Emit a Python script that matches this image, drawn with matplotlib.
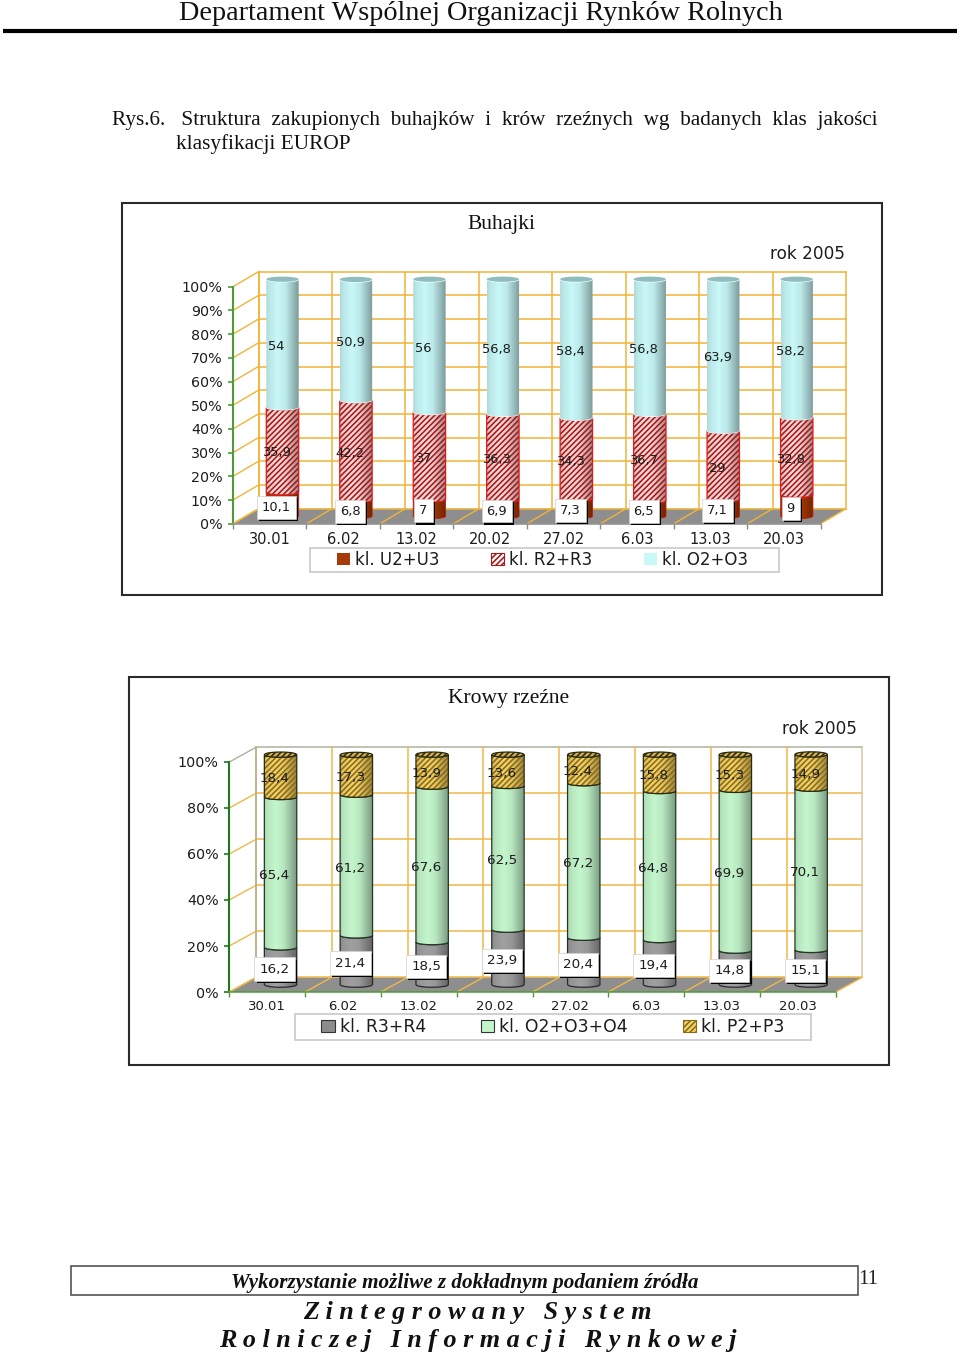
import numpy as np
import matplotlib
matplotlib.use("Agg")
import matplotlib.pyplot as plt
from matplotlib.patches import Polygon, Rectangle, Patch
import matplotlib.patheffects as pe

# ---------- data ----------
dates = ["30.01", "6.02", "13.02", "20.02", "27.02", "6.03", "13.03", "20.03"]

buhajki_names = ["kl. U2+U3", "kl. R2+R3", "kl. O2+O3"]
buhajki_u = [10.1, 6.8, 7, 6.9, 7.3, 6.5, 7.1, 9]
buhajki_r = [35.9, 42.2, 37, 36.3, 34.3, 36.7, 29, 32.8]
buhajki_o = [54, 50.9, 56, 56.8, 58.4, 56.8, 63.9, 58.2]

krowy_names = ["kl. R3+R4", "kl. O2+O3+O4", "kl. P2+P3"]
krowy_r = [16.2, 21.4, 18.5, 23.9, 20.4, 19.4, 14.8, 15.1]
krowy_o = [65.4, 61.2, 67.6, 62.5, 67.2, 64.8, 69.9, 70.1]
krowy_p = [18.4, 17.3, 13.9, 13.6, 12.4, 15.8, 15.3, 14.9]

W, H = 960, 1352
DPI = 100
PT = 72 / DPI
SERIF = "Liberation Serif"
SANS = "DejaVu Sans"
plt.rcParams["font.family"] = SANS
plt.rcParams["hatch.linewidth"] = 1.15

fig = plt.figure(figsize=(W / DPI, H / DPI), dpi=DPI, facecolor="white")
page = fig.add_axes([0, 0, 1, 1], zorder=0)
page.set_xlim(0, W)
page.set_ylim(H, 0)
page.axis("off")


def gradient(base):
    t = np.linspace(0, 1, 96)
    shade = np.interp(t, [0, 0.12, 0.35, 0.6, 0.85, 1], [0.88, 0.94, 1.0, 0.94, 0.74, 0.62])
    rgb = np.array(matplotlib.colors.to_rgb(base))
    return np.clip(shade[:, None] * rgb, 0, 1)[None, :, :]


def chart(rect_px, series, names, styles, tick_fs, xt_fs, lab_fs, leg_fs, xt_pad,
          yticks, colors, legend_px, legend_spacing, legend_shift):
    x0, x1, y100, y0, ddx, ddy = rect_px
    ax = fig.add_axes([x0 / W, 1 - y0 / H, (x1 - x0) / W, (y0 - y100) / H], zorder=2)
    ax.patch.set_alpha(0)
    n = len(dates)
    ax.set_xlim(0, n)
    ax.set_ylim(0, 100)
    ux = (x1 - x0) / n        # pixels per category
    uy = (y0 - y100) / 100    # pixels per percent
    dx, dy = ddx / ux, ddy / uy   # full depth in data units

    # floor
    ax.add_patch(Polygon([(0, 0), (n, 0), (n + dx, dy), (dx, dy)], closed=True,
                         fc="#8e8e8e", ec="none", clip_on=False, zorder=1))
    # walls, grid
    gc = colors["grid"]
    for v in yticks:
        col = colors["topline"] if v == 100 else gc
        ax.plot([dx, n + dx], [v + dy, v + dy], color=col, lw=1.1, clip_on=False, zorder=2)
        ax.plot([0, dx], [v, v + dy], color=col, lw=1.0, clip_on=False, zorder=2)
    for i in range(n + 1):
        ax.plot([i + dx, i + dx], [dy, 100 + dy],
                color=colors["side"] if i == n else gc, lw=1.1, clip_on=False, zorder=2)
        ax.plot([i, i + dx], [0, dy], color=gc, lw=1.0, clip_on=False, zorder=3)
    ax.plot([dx, dx], [dy, 100 + dy], color=colors["side0"], lw=1.1, clip_on=False, zorder=2)

    # cylinders
    half = (16.2 / ux)
    e = 2.6 / uy
    tt = np.linspace(-1, 1, 41)
    arc = np.sqrt(1 - tt ** 2)
    z = 5
    for i in range(n):
        cx = i + 0.5 + dx / 2
        bottom = dy / 2
        for vals, st in zip(series, styles):
            v = vals[i]
            top = bottom + v
            xs = cx + half * tt
            poly = np.vstack([np.c_[xs, bottom - e * arc],
                              np.c_[xs[::-1], (top - e * arc)[::-1]]])
            edge = st.get("edge", "none")
            p = Polygon(poly, closed=True, fc="none", ec="none", clip_on=False, zorder=z)
            ax.add_patch(p)
            im = ax.imshow(gradient(st["color"]), extent=[cx - half, cx + half, bottom - e, top],
                           aspect="auto", zorder=z, interpolation="bilinear")
            im.set_clip_box(fig.bbox)
            im.set_clip_path(p)
            if "hatch" in st:
                ax.add_patch(Polygon(poly, closed=True, fc="none", ec=st["hatchcolor"],
                                     hatch=st["hatch"], lw=0, clip_on=False, zorder=z + 0.1))
            if edge != "none":
                ax.add_patch(Polygon(poly, closed=True, fc="none", ec=edge,
                                     lw=st.get("lw", 1.0), clip_on=False, zorder=z + 0.2))
            if "sep" in st:
                ax.plot(xs, top - e * arc, color=st["sep"], lw=1.0, clip_on=False, zorder=z + 0.3)
            bottom = top
            z += 1
        # top cap
        st = styles[-1]
        cap = np.vstack([np.c_[cx + half * tt, bottom + e * arc],
                         np.c_[(cx + half * tt)[::-1], (bottom - e * arc)[::-1]]])
        ax.add_patch(Polygon(cap, closed=True, fc=st["cap"], ec=st.get("edge", "none"),
                             lw=st.get("lw", 1.0), hatch=st.get("hatch"), clip_on=False, zorder=z))
        z += 1
    ax.set_xlim(0, n)
    ax.set_ylim(0, 100)

    # value labels
    for i in range(n):
        cx = i + 0.5 + dx / 2
        bottom = dy / 2
        for k, vals in enumerate(series):
            v = vals[i]
            mid = bottom + v / 2
            s = f"{v:g}".replace(".", ",")
            t = ax.annotate(s, (cx, mid), xytext=(-6 * PT, -3 * PT), textcoords="offset points",
                            ha="center", va="center", fontsize=lab_fs, color="#1c1c1c",
                            annotation_clip=False, zorder=500)
            if k == 0:
                t.set_bbox(dict(boxstyle="square,pad=0.38", fc="white", ec="#d0d0d0", lw=0.5))
                t.get_bbox_patch().set_path_effects(
                    [pe.SimplePatchShadow(offset=(1.6, -1.6), shadow_rgbFace="black", alpha=1),
                     pe.Normal()])
            bottom += v

    # axes
    for s in ("top", "right"):
        ax.spines[s].set_visible(False)
    ax.spines["left"].set_color(colors["yaxis"])
    ax.spines["left"].set_linewidth(1.5)
    ax.spines["bottom"].set_color(colors["xaxis"])
    ax.spines["bottom"].set_linewidth(1.1)
    ax.spines["bottom"].set_zorder(4)
    ax.set_yticks(yticks)
    ax.set_yticklabels([f"{v}%" for v in yticks], fontsize=tick_fs, color="#1c1c1c")
    ax.tick_params(axis="y", length=5 * PT, width=1.2, color=colors["yaxis"], pad=5.5 * PT)
    ax.set_xticks(np.arange(n) + 0.5)
    ax.set_xticklabels(dates, fontsize=xt_fs, color="#1c1c1c")
    ax.set_xticks(np.arange(n + 1), minor=True)
    ax.tick_params(axis="x", which="major", length=0, pad=xt_pad * PT)
    ax.tick_params(axis="x", which="minor", length=5 * PT, width=1.0, color=colors["xaxis"])

    # legend
    lx0, lx1, ly0, ly1 = legend_px
    page.add_patch(Rectangle((lx0, ly0), lx1 - lx0, ly1 - ly0, fc="white", ec="#c8c8c8", lw=1.2))
    handles = [Patch(fc=st["legend"], ec=st.get("legedge", "none"), hatch=st.get("hatch"),
                     lw=0.8) for st in styles]
    for h, st in zip(handles, styles):
        if "hatch" in st:
            h.set_edgecolor(st["hatchcolor"])
    ax.legend(handles, names, loc="center", ncol=3, frameon=False, fontsize=leg_fs,
              bbox_to_anchor=((lx0 + lx1) / 2 / W + legend_shift / W, 1 - (ly0 + ly1) / 2 / H),
              bbox_transform=fig.transFigure, handlelength=0.78, handleheight=0.78,
              handletextpad=0.28, columnspacing=legend_spacing, borderpad=0, borderaxespad=0,
              labelcolor="#1c1c1c")
    return ax


# ---------- page text ----------
page.text(480.5, 13.5, "Departament Wspólnej Organizacji Rynków Rolnych", family=SERIF,
          fontsize=20.3, ha="center", va="center", color="#111111")
page.plot([3, 957], [30.5, 30.5], color="black", lw=3.0, solid_capstyle="butt")
page.text(112, 120, "Rys.6.   Struktura  zakupionych  buhajków  i  krów  rzeźnych  wg  badanych  klas  jakości",
          family=SERIF, fontsize=15.3, ha="left", va="center", color="#111111")
page.text(176, 144, "klasyfikacji EUROP", family=SERIF, fontsize=15.3, ha="left", va="center",
          color="#111111")

# chart frames
page.add_patch(Rectangle((122, 203), 760, 392, fc="white", ec="#2a2a2a", lw=1.5))
page.add_patch(Rectangle((128.5, 677), 760, 388, fc="white", ec="#2a2a2a", lw=1.5))
page.text(501.5, 224, "Buhajki", family=SERIF, fontsize=15.5, ha="center", va="center", color="#111111")
page.text(508.5, 699, "Krowy rzeźne", family=SERIF, fontsize=15.5, ha="center", va="center", color="#111111")
page.text(808, 254, "rok 2005", fontsize=12.2, ha="center", va="center", color="#1c1c1c")
page.text(819.5, 729, "rok 2005", fontsize=12.2, ha="center", va="center", color="#1c1c1c")

# footer
page.add_patch(Rectangle((71, 1266), 787, 29, fc="white", ec="#555555", lw=1.2))
page.text(464.5, 1283, "Wykorzystanie możliwe z dokładnym podaniem źródła", family=SERIF,
          fontsize=15.2, weight="bold", style="italic", ha="center", va="center", color="#111111")
page.text(868, 1280, "11", family=SERIF, fontsize=15, ha="center", va="center", color="#222222")
page.text(477, 1312.5, "Z i n t e g r o w a n y   S y s t e m", family=SERIF, fontsize=18.8,
          weight="bold", style="italic", ha="center", va="center", color="#111111")
page.text(477.5, 1340.5, "R o l n i c z e j   I n f o r m a c j i   R y n k o w e j", family=SERIF,
          fontsize=18.8, weight="bold", style="italic", ha="center", va="center", color="#111111")

# ---------- charts ----------
styles1 = [
    dict(color="#b23c00", legend="#a63a08", edge="#c01818", lw=0.6, cap="#a03000"),
    dict(color="#ffdcdc", legend="#ffffff", hatch="//////", hatchcolor="#a81818", edge="#e01818",
         lw=0.9, cap="#c08080", sep="#f4f4f4"),
    dict(color="#c8f8f8", legend="#c8f8f8", cap="#8fbcbc", sep="#f0ffff"),
]
chart((233, 820.7, 286.7, 523.7, 25.5, 15), [buhajki_u, buhajki_r, buhajki_o], buhajki_names,
      styles1, 10.3, 10.5, 9.4, 12, 8.5, list(range(0, 101, 10)),
      dict(grid="#f0b438", topline="#f0b438", side="#f0b438", side0="#f0b438",
           yaxis="#4f9b3a", xaxis="#8a8a8a"),
      (310, 779, 548, 572), 3.1, -2)

styles2 = [
    dict(color="#a0a0a0", legend="#8c8c8c", legedge="#333333", edge="#2a2a2a", lw=0.9, cap="#909090"),
    dict(color="#c4f6cc", legend="#c4f6cc", legedge="#333333", edge="#1f3a24", lw=0.9, cap="#a8d8b0"),
    dict(color="#f4d468", legend="#f4d468", hatch="//////", hatchcolor="#8a6a18", edge="#2a2a10",
         lw=0.9, cap="#d8b050"),
]
chart((229.3, 835.7, 762, 992, 26.7, 14.7), [krowy_r, krowy_o, krowy_p], krowy_names,
      styles2, 10.3, 9.5, 9.7, 12.4, 8, list(range(0, 101, 20)),
      dict(grid="#f0b84a", topline="#b0b0a0", side="#d8c8a0", side0="#b0b0a0",
           yaxis="#1c7a1c", xaxis="#4f9b3a"),
      (295, 811, 1014, 1040), 3.2, 0)

fig.savefig("out.png", dpi=DPI, facecolor="white")
